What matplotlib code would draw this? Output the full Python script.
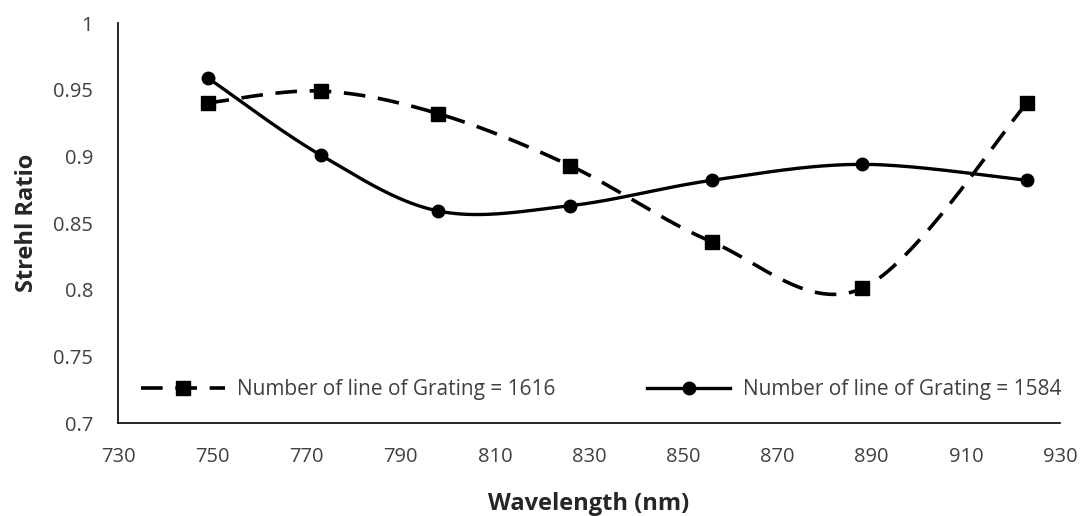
import matplotlib.pyplot as plt
import numpy as np

WAVELENGTH = [749, 773, 798, 826, 856, 888, 923]
STREHL_1616 = [0.940, 0.949, 0.932, 0.893, 0.836, 0.801, 0.940]
STREHL_1584 = [0.959, 0.901, 0.859, 0.863, 0.882, 0.894, 0.882]
LABEL_1616 = 'Number of line of Grating = 1616'
LABEL_1584 = 'Number of line of Grating = 1584'

X_TICKS = list(range(730, 931, 20))
Y_TICKS = [0.7, 0.75, 0.8, 0.85, 0.9, 0.95, 1]
Y_TICK_LABELS = ['0.7', '0.75', '0.8', '0.85', '0.9', '0.95', '1']

FONT = ['Open Sans', 'DejaVu Sans']
GREY = '#404040'


def smooth(xs, ys, steps=40):
    # Excel-style smoothed line: Catmull-Rom segments drawn as cubic Beziers
    pts = np.column_stack([xs, ys]).astype(float)
    padded = np.vstack([pts[0], pts, pts[-1]])
    t = np.linspace(0, 1, steps)[:, None]
    out = []
    for i in range(len(pts) - 1):
        p0, p1, p2, p3 = padded[i], padded[i + 1], padded[i + 2], padded[i + 3]
        c1 = p1 + (p2 - p0) / 6
        c2 = p2 - (p3 - p1) / 6
        seg = ((1 - t) ** 3) * p1 + 3 * ((1 - t) ** 2) * t * c1 \
            + 3 * (1 - t) * t ** 2 * c2 + t ** 3 * p2
        out.append(seg if i == 0 else seg[1:])
    out = np.vstack(out)
    return out[:, 0], out[:, 1]


def main():
    plt.rcParams['font.family'] = FONT
    fig = plt.figure(figsize=(10.84, 5.16), dpi=100)
    ax = fig.add_axes([0.1089, 0.1802, 0.869, 0.7752])

    sx, sy = smooth(WAVELENGTH, STREHL_1616)
    ax.plot(sx, sy, color='black', lw=2.6, dashes=(6, 3.5))
    ax.plot(WAVELENGTH, STREHL_1616, ls='none', marker='s', ms=10,
            color='black')
    sx, sy = smooth(WAVELENGTH, STREHL_1584)
    ax.plot(sx, sy, color='black', lw=2.4)
    ax.plot(WAVELENGTH, STREHL_1584, ls='none', marker='o', ms=9,
            color='black')

    # legend proxies carrying both line style and marker
    h1, = ax.plot([], [], color='black', lw=2.6, dashes=(6, 3.5),
                  marker='s', ms=10)
    h2, = ax.plot([], [], color='black', lw=2.4, marker='o', ms=9)
    ax.legend([h1, h2], [LABEL_1616, LABEL_1584], loc='lower center',
              bbox_to_anchor=(0.513, 0.01), ncol=2, frameon=False,
              fontsize=15, handlelength=4.0, handletextpad=0.6,
              columnspacing=4.4, labelcolor=GREY)

    ax.set_xlim(730, 930)
    ax.set_ylim(0.7, 1)
    ax.set_xticks(X_TICKS)
    ax.set_yticks(Y_TICKS)
    ax.set_yticklabels(Y_TICK_LABELS)
    ax.tick_params(length=0, labelsize=14.5, labelcolor=GREY)
    ax.tick_params(axis='x', pad=17)
    ax.tick_params(axis='y', pad=18)
    for side in ['top', 'right']:
        ax.spines[side].set_visible(False)
    for side in ['left', 'bottom']:
        ax.spines[side].set_color('black')
        ax.spines[side].set_linewidth(1.2)

    ax.set_xlabel('Wavelength (nm)', fontsize=17, fontweight='bold',
                  color='#262626', labelpad=18)
    ax.set_ylabel('Strehl Ratio', fontsize=17, fontweight='bold',
                  color='#262626', labelpad=10)

    fig.savefig('out.png', dpi=100)


if __name__ == '__main__':
    main()
